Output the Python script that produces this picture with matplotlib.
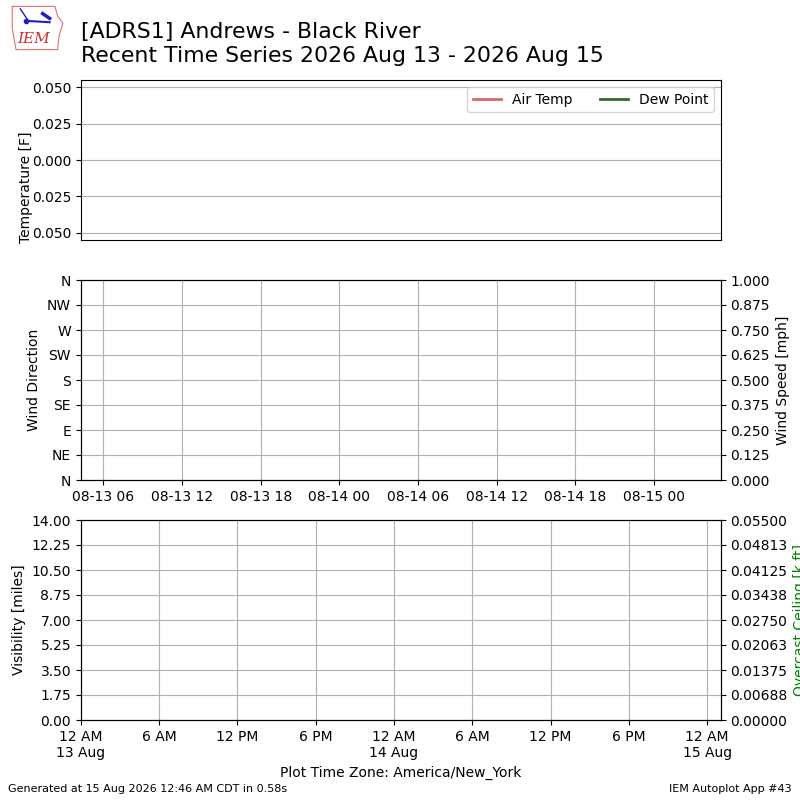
import datetime
import numpy as np
import matplotlib
matplotlib.use("Agg")
import matplotlib.pyplot as plt
import matplotlib.dates as mdates
from matplotlib.patches import Polygon

# station / titles
station_title = "[ADRS1] Andrews - Black River"
subtitle = "Recent Time Series 2026 Aug 13 - 2026 Aug 15"
footer_left = "Generated at 15 Aug 2026 12:46 AM CDT in 0.58s"
footer_right = "IEM Autoplot App #43"
tz_label = "Plot Time Zone: America/New_York"

# no observations in window
valid = []
tmpf = []
dwpf = []
drct = []
sknt = []
vsby = []
ceiling = []

# axis limits (UTC for the wind panel, local for the bottom panel)
wind_start = datetime.datetime(2026, 8, 13, 4, 17)
wind_end = datetime.datetime(2026, 8, 15, 5, 6)
local_start = datetime.datetime(2026, 8, 13, 0, 0)
local_end = datetime.datetime(2026, 8, 15, 1, 3)

temp_ticks = [0.05, 0.025, 0.0, -0.025, -0.05]
temp_labels = ["0.050", "0.025", "0.000", "0.025", "0.050"]
drct_ticks = [0, 45, 90, 135, 180, 225, 270, 315, 360]
drct_labels = ["N", "NE", "E", "SE", "S", "SW", "W", "NW", "N"]
smph_ticks = list(np.arange(0, 1.001, 0.125))
vsby_ticks = list(np.arange(0, 14.01, 1.75))
ceil_ticks = list(np.linspace(0, 0.055, 9))

fig = plt.figure(figsize=(8, 8), dpi=100)
fig.text(0.101, 0.972, station_title + "\n" + subtitle, fontsize=15.8,
         va="top", ha="left", linespacing=1.25)

# crude logo
lax = fig.add_axes([0.012, 0.935, 0.07, 0.06])
lax.add_patch(Polygon([[0.05, 0.95], [0.85, 0.95], [0.9, 0.75], [1.0, 0.6],
                       [0.93, 0.35], [0.9, 0.05], [0.12, 0.05], [0.05, 0.5]],
                      closed=True, fill=False, ec="#e07070", lw=0.8))
lax.plot([0.2, 0.35], [0.9, 0.65], color="#2020c0", lw=1)
lax.plot([0.3, 0.75], [0.65, 0.62], color="#2020c0", lw=1.5)
lax.plot([0.62, 0.75], [0.8, 0.7], color="#2020c0", lw=2.5)
lax.plot([0.3], [0.65], "o", color="#2020c0", ms=3)
lax.text(0.45, 0.28, "IEM", color="#d03030", fontsize=11, style="italic",
         family="DejaVu Serif", ha="center", va="center")
lax.set_xlim(0, 1.05)
lax.set_ylim(0, 1)
lax.axis("off")

# temperature panel
ax1 = fig.add_axes([0.101, 0.70, 0.8, 0.20])
ax1.plot(valid, tmpf, color="#e0636b", lw=2, label="Air Temp")
ax1.plot(valid, dwpf, color="#2e6b2e", lw=2, label="Dew Point")
ax1.set_ylim(-0.055, 0.055)
ax1.set_yticks(temp_ticks)
ax1.set_yticklabels(temp_labels)
ax1.set_xticks([])
ax1.grid(True)
ax1.set_ylabel("Temperature [F]")
ax1.yaxis.set_label_coords(-0.075, 0.33)
ax1.legend(loc="upper right", ncol=2)

# wind panel
ax2 = fig.add_axes([0.101, 0.40, 0.8, 0.25])
ax2.scatter(valid, drct, color="b", s=10)
ax2.set_ylim(0, 360)
ax2.set_yticks(drct_ticks)
ax2.set_yticklabels(drct_labels)
ax2.set_ylabel("Wind Direction")
ax2.set_xlim(wind_start, wind_end)
ax2.xaxis.set_major_locator(mdates.HourLocator(byhour=[0, 6, 12, 18]))
ax2.xaxis.set_major_formatter(mdates.DateFormatter("%m-%d %H"))
ax2.grid(True)
ax2b = ax2.twinx()
ax2b.plot(valid, sknt, color="k")
ax2b.set_ylim(0, 1)
ax2b.set_yticks(smph_ticks)
ax2b.yaxis.set_major_formatter(plt.FormatStrFormatter("%.3f"))
ax2b.set_ylabel("Wind Speed [mph]")


def local_fmt(x, pos=None):
    d = mdates.num2date(x)
    if d.hour == 0:
        return "12 AM\n" + d.strftime("%d %b")
    h = d.hour % 12 or 12
    return f"{h} {'AM' if d.hour < 12 else 'PM'}"


# visibility / ceiling panel
ax3 = fig.add_axes([0.101, 0.10, 0.8, 0.25])
ax3.plot(valid, vsby, color="k")
ax3.set_ylim(0, 14)
ax3.set_yticks(vsby_ticks)
ax3.yaxis.set_major_formatter(plt.FormatStrFormatter("%.2f"))
ax3.set_ylabel("Visibility [miles]")
ax3.set_xlim(local_start, local_end)
ax3.xaxis.set_major_locator(mdates.HourLocator(byhour=[0, 6, 12, 18]))
ax3.xaxis.set_major_formatter(plt.FuncFormatter(local_fmt))
ax3.set_xlabel(tz_label)
ax3.grid(True)
ax3b = ax3.twinx()
ax3b.plot(valid, ceiling, color="g")
ax3b.set_ylim(0, 0.055)
ax3b.set_yticks(ceil_ticks)
ax3b.yaxis.set_major_formatter(plt.FormatStrFormatter("%.5f"))
ax3b.set_ylabel("Overcast Ceiling [k ft]", color="g")

fig.text(0.01, 0.008, footer_left, fontsize=8, ha="left", va="bottom")
fig.text(0.99, 0.008, footer_right, fontsize=8, ha="right", va="bottom")

fig.savefig("out.png", dpi=100)
